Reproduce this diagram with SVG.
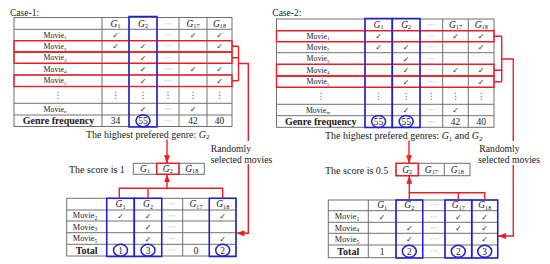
<svg xmlns="http://www.w3.org/2000/svg" width="550" height="264" viewBox="0 0 550 264" font-family="'Liberation Serif', 'DejaVu Serif', serif">
<defs>
<style>
.a,.m,.m2,.n,.b,.h{font-family:"Liberation Serif","DejaVu Serif",serif;fill:#1a1a1a}
.a{font-size:10px}
.m{font-size:7.8px;text-anchor:middle}
.m2{font-size:8.3px;text-anchor:middle}
.ck{font-family:"DejaVu Sans",sans-serif;font-size:8px;text-anchor:middle;fill:#1a1a1a}
.dt{font-family:"DejaVu Sans",sans-serif;font-size:7px;fill:#666;text-anchor:middle}
.n{font-size:9.5px;text-anchor:middle}
.b{font-weight:bold;font-size:10px;text-anchor:middle}
.h{font-style:italic;font-size:9.5px;text-anchor:middle}
.sb{font-style:normal;font-size:6.2px}
.grid{fill:none;stroke:#707070;stroke-width:1}
.red{fill:none;stroke:#ee1d24;stroke-width:1.4}
.blue{fill:none;stroke:#1f1fd6;stroke-width:1.5}
</style>
<marker id="ah" markerUnits="userSpaceOnUse" markerWidth="8" markerHeight="6" refX="8" refY="3" orient="auto">
<path d="M0,0 L8,3 L0,6 z" fill="#ee1d24"/>
</marker>
</defs>
<rect width="550" height="264" fill="#fff"/>

<g id="case1-table">
<text class="a" x="10" y="15.5" style="font-size:9.5px">Case-1:</text>
<rect class="grid" x="14" y="17.5" width="218" height="109"/>
<path class="grid" d="M14,29.3H232M14,40.7H232M14,52H232M14,63.3H232M14,75H232M14,86.5H232M14,103.3H232M14,115H232M102,17.5V126.5M129,17.5V126.5M157,17.5V126.5M179,17.5V126.5M207,17.5V126.5"/>
<text class="h" x="115.5" y="26.5">G<tspan class="sb" dy="1.5">1</tspan></text>
<text class="h" x="143" y="26.5">G<tspan class="sb" dy="1.5">2</tspan></text>
<text class="dt" x="168" y="25.5">⋯</text>
<text class="h" x="193" y="26.5">G<tspan class="sb" dy="1.5">17</tspan></text>
<text class="h" x="219.5" y="26.5">G<tspan class="sb" dy="1.5">18</tspan></text>
<text class="m" x="55" y="37.7">Movie<tspan font-size="5" dy="1.5">1</tspan></text>
<text class="ck" x="115.5" y="38">✓</text><text class="dt" x="168" y="37">⋯</text><text class="ck" x="193" y="38">✓</text><text class="ck" x="219.5" y="38">✓</text>
<text class="m" x="55" y="49">Movie<tspan font-size="5" dy="1.5">2</tspan></text>
<text class="ck" x="115.5" y="49.3">✓</text><text class="ck" x="143" y="49.3">✓</text><text class="dt" x="168" y="48.3">⋯</text><text class="ck" x="219.5" y="49.3">✓</text>
<text class="m" x="55" y="60.4">Movie<tspan font-size="5" dy="1.5">3</tspan></text>
<text class="ck" x="143" y="60.7">✓</text><text class="dt" x="168" y="59.7">⋯</text>
<text class="m" x="55" y="71.9">Movie<tspan font-size="5" dy="1.5">4</tspan></text>
<text class="ck" x="143" y="72.2">✓</text><text class="dt" x="168" y="71.2">⋯</text><text class="ck" x="193" y="72.2">✓</text><text class="ck" x="219.5" y="72.2">✓</text>
<text class="m" x="55" y="83.4">Movie<tspan font-size="5" dy="1.5">5</tspan></text>
<text class="ck" x="143" y="83.7">✓</text><text class="dt" x="168" y="82.7">⋯</text><text class="ck" x="219.5" y="83.7">✓</text>
<text class="dt" x="58" y="98" style="font-size:9px">⋮</text><text class="dt" x="115.5" y="98" style="font-size:9px">⋮</text><text class="dt" x="143" y="98" style="font-size:9px">⋮</text><text class="dt" x="168" y="98" style="font-size:9px">⋮</text><text class="dt" x="193" y="98" style="font-size:9px">⋮</text><text class="dt" x="219.5" y="98" style="font-size:9px">⋮</text>
<text class="m" x="55" y="111.9">Movie<tspan font-size="5" dy="1.5">n</tspan></text>
<text class="ck" x="143" y="112.2">✓</text><text class="dt" x="168" y="111.2">⋯</text><text class="ck" x="193" y="112.2">✓</text>
<text class="b" x="58.5" y="124">Genre frequency</text>
<text class="n" x="115.5" y="124">34</text><text class="n" x="143" y="124">55</text><text class="dt" x="168" y="122.8">⋯</text><text class="n" x="193" y="124">42</text><text class="n" x="219.5" y="124">40</text>
<rect class="red" x="14" y="40.7" width="218" height="11.3"/>
<rect class="red" x="14" y="52" width="218" height="11.3"/>
<rect class="red" x="14" y="75" width="218" height="11.5"/>
<rect class="blue" x="129" y="16.5" width="28" height="110.5"/>
<ellipse class="blue" cx="143" cy="120.7" rx="7" ry="6"/>
</g>

<g id="case2-table">
<text class="a" x="272.3" y="16" style="font-size:9.5px">Case-2:</text>
<rect class="grid" x="276.5" y="19" width="217.5" height="108.3"/>
<path class="grid" d="M276.5,30.7H494M276.5,41.7H494M276.5,52.7H494M276.5,64.3H494M276.5,76H494M276.5,87.3H494M276.5,104.3H494M276.5,115.7H494M365,19V127.3M392.3,19V127.3M420,19V127.3M442.7,19V127.3M468.3,19V127.3"/>
<text class="h" x="378.6" y="27.9">G<tspan class="sb" dy="1.5">1</tspan></text>
<text class="h" x="406.2" y="27.9">G<tspan class="sb" dy="1.5">2</tspan></text>
<text class="dt" x="431.3" y="26.9">⋯</text>
<text class="h" x="455.5" y="27.9">G<tspan class="sb" dy="1.5">17</tspan></text>
<text class="h" x="481.2" y="27.9">G<tspan class="sb" dy="1.5">18</tspan></text>
<text class="m" x="318" y="38.9">Movie<tspan font-size="5" dy="1.5">1</tspan></text>
<text class="ck" x="378.6" y="39.2">✓</text><text class="dt" x="431.3" y="38.2">⋯</text><text class="ck" x="455.5" y="39.2">✓</text><text class="ck" x="481.2" y="39.2">✓</text>
<text class="m" x="318" y="49.9">Movie<tspan font-size="5" dy="1.5">2</tspan></text>
<text class="ck" x="378.6" y="50.2">✓</text><text class="ck" x="406.2" y="50.2">✓</text><text class="dt" x="431.3" y="49.2">⋯</text><text class="ck" x="481.2" y="50.2">✓</text>
<text class="m" x="318" y="61.2">Movie<tspan font-size="5" dy="1.5">3</tspan></text>
<text class="ck" x="406.2" y="61.5">✓</text><text class="dt" x="431.3" y="60.5">⋯</text>
<text class="m" x="318" y="72.9">Movie<tspan font-size="5" dy="1.5">4</tspan></text>
<text class="ck" x="406.2" y="73.2">✓</text><text class="dt" x="431.3" y="72.2">⋯</text><text class="ck" x="455.5" y="73.2">✓</text><text class="ck" x="481.2" y="73.2">✓</text>
<text class="m" x="318" y="84.4">Movie<tspan font-size="5" dy="1.5">5</tspan></text>
<text class="ck" x="406.2" y="84.7">✓</text><text class="dt" x="431.3" y="83.7">⋯</text><text class="ck" x="481.2" y="84.7">✓</text>
<text class="dt" x="320.7" y="99" style="font-size:9px">⋮</text><text class="dt" x="378.6" y="99" style="font-size:9px">⋮</text><text class="dt" x="406.2" y="99" style="font-size:9px">⋮</text><text class="dt" x="431.3" y="99" style="font-size:9px">⋮</text><text class="dt" x="455.5" y="99" style="font-size:9px">⋮</text><text class="dt" x="481.2" y="99" style="font-size:9px">⋮</text>
<text class="m" x="318" y="112.7">Movie<tspan font-size="5" dy="1.5">m</tspan></text>
<text class="ck" x="406.2" y="113">✓</text><text class="dt" x="431.3" y="112">⋯</text><text class="ck" x="455.5" y="113">✓</text>
<text class="b" x="320.7" y="124.8">Genre frequency</text>
<text class="n" x="378.6" y="124.8">55</text><text class="n" x="406.2" y="124.8">55</text><text class="dt" x="431.3" y="123.6">⋯</text><text class="n" x="455.5" y="124.8">42</text><text class="n" x="481.2" y="124.8">40</text>
<rect class="red" x="276.5" y="30.7" width="217.5" height="11"/>
<rect class="red" x="276.5" y="64.3" width="217.5" height="11.7"/>
<rect class="red" x="276.5" y="76" width="217.5" height="11.3"/>
<rect class="blue" x="365" y="18.5" width="27.3" height="109"/>
<rect class="blue" x="392.3" y="18.5" width="27.7" height="109"/>
<ellipse class="blue" cx="378.6" cy="121.5" rx="7" ry="6"/>
<ellipse class="blue" cx="406.2" cy="121.5" rx="7" ry="6"/>
</g>

<g id="case1-labels">
<text class="a" x="86" y="137.5">The highest prefered genre: <tspan font-style="italic">G</tspan><tspan font-size="7" dy="1.8">2</tspan></text>
<text class="a" x="69" y="172.5">The score is 1</text>
<text class="a" x="210.7" y="151.5" style="font-size:9.7px">Randomly</text>
<text class="a" x="210.7" y="162.5" style="font-size:9.7px">selected movies</text>
</g>

<g id="case1-score">
<rect class="grid" x="133.3" y="163.3" width="71" height="11"/>
<path class="grid" d="M156.7,163.3V174.3M179,163.3V174.3"/>
<text class="h" x="145" y="171.8">G<tspan class="sb" dy="1.5">1</tspan></text>
<text class="h" x="167.8" y="171.8">G<tspan class="sb" dy="1.5">2</tspan></text>
<text class="h" x="191.7" y="171.8">G<tspan class="sb" dy="1.5">18</tspan></text>
<rect class="red" x="156.7" y="163.3" width="22.3" height="11"/>
</g>

<g id="case1-sample">
<rect class="grid" x="66.7" y="198.3" width="169.3" height="57.7"/>
<path class="grid" d="M66.7,210H236M66.7,221H236M66.7,232.7H236M66.7,244.3H236M106.7,198.3V256M134.3,198.3V256M161.7,198.3V256M182.7,198.3V256M209.3,198.3V256"/>
<text class="h" x="120.5" y="207.3">G<tspan class="sb" dy="1.5">1</tspan></text>
<text class="h" x="148" y="207.3">G<tspan class="sb" dy="1.5">2</tspan></text>
<text class="dt" x="172.2" y="206.3">⋯</text>
<text class="h" x="196" y="207.3">G<tspan class="sb" dy="1.5">17</tspan></text>
<text class="h" x="222.7" y="207.3">G<tspan class="sb" dy="1.5">18</tspan></text>
<text class="m2" x="85" y="218.4">Movie<tspan font-size="5.5" dy="1.5">2</tspan></text>
<text class="ck" x="120.5" y="218.5">✓</text><text class="ck" x="148" y="218.5">✓</text><text class="dt" x="172.2" y="217.5">⋯</text><text class="ck" x="222.7" y="218.5">✓</text>
<text class="m2" x="85" y="229.8">Movie<tspan font-size="5.5" dy="1.5">3</tspan></text>
<text class="ck" x="148" y="229.9">✓</text><text class="dt" x="172.2" y="228.9">⋯</text>
<text class="m2" x="85" y="241.4">Movie<tspan font-size="5.5" dy="1.5">5</tspan></text>
<text class="ck" x="148" y="241.5">✓</text><text class="dt" x="172.2" y="240.5">⋯</text><text class="ck" x="222.7" y="241.5">✓</text>
<text class="b" x="86.7" y="253.5">Total</text>
<text class="n" x="120.5" y="253.5">1</text><text class="n" x="148" y="253.5">3</text><text class="dt" x="172.2" y="252.3">⋯</text><text class="n" x="196" y="253.5">0</text><text class="n" x="222.7" y="253.5">2</text>
<rect class="blue" x="106.7" y="198.3" width="27.6" height="58.2"/>
<rect class="blue" x="134.3" y="198.3" width="27.4" height="58.2"/>
<rect class="blue" x="209.3" y="198.3" width="26.7" height="58.2"/>
<ellipse class="blue" cx="120.5" cy="250.2" rx="7" ry="6"/>
<ellipse class="blue" cx="148" cy="250.2" rx="7" ry="6"/>
<ellipse class="blue" cx="222.7" cy="250.2" rx="7" ry="6"/>
</g>

<g id="case2-labels">
<text class="a" x="325" y="139">The highest prefered genres: <tspan font-style="italic">G</tspan><tspan font-size="7" dy="1.8">1</tspan><tspan dy="-1.8"> and </tspan><tspan font-style="italic">G</tspan><tspan font-size="7" dy="1.8">2</tspan></text>
<text class="a" x="325" y="174">The score is 0.5</text>
<text class="a" x="479.3" y="151.5" style="font-size:9.7px">Randomly</text>
<text class="a" x="478.3" y="162.5" style="font-size:9.7px">selected movies</text>
</g>

<g id="case2-score">
<rect class="grid" x="396" y="163.3" width="74" height="12.4"/>
<path class="grid" d="M418.3,163.3V175.7M444.3,163.3V175.7"/>
<text class="h" x="407.2" y="172.5">G<tspan class="sb" dy="1.5">2</tspan></text>
<text class="h" x="431.3" y="172.5">G<tspan class="sb" dy="1.5">17</tspan></text>
<text class="h" x="457.2" y="172.5">G<tspan class="sb" dy="1.5">18</tspan></text>
<rect class="red" x="396" y="163.3" width="22.3" height="12.4"/>
</g>

<g id="case2-sample">
<rect class="grid" x="328.3" y="200" width="169.4" height="57.7"/>
<path class="grid" d="M328.3,210.7H497.7M328.3,222.3H497.7M328.3,233.3H497.7M328.3,245H497.7M368.3,200V257.7M396,200V257.7M422.7,200V257.7M445,200V257.7M471.7,200V257.7"/>
<text class="h" x="382.2" y="208.4">G<tspan class="sb" dy="1.5">1</tspan></text>
<text class="h" x="409.3" y="208.4">G<tspan class="sb" dy="1.5">2</tspan></text>
<text class="dt" x="433.8" y="207.4">⋯</text>
<text class="h" x="458.3" y="208.4">G<tspan class="sb" dy="1.5">17</tspan></text>
<text class="h" x="484.7" y="208.4">G<tspan class="sb" dy="1.5">18</tspan></text>
<text class="m2" x="347" y="219.4">Movie<tspan font-size="5.5" dy="1.5">1</tspan></text>
<text class="ck" x="382.2" y="219.5">✓</text><text class="dt" x="433.8" y="218.5">⋯</text><text class="ck" x="458.3" y="219.5">✓</text><text class="ck" x="484.7" y="219.5">✓</text>
<text class="m2" x="347" y="230.7">Movie<tspan font-size="5.5" dy="1.5">4</tspan></text>
<text class="ck" x="409.3" y="230.8">✓</text><text class="dt" x="433.8" y="229.8">⋯</text><text class="ck" x="458.3" y="230.8">✓</text><text class="ck" x="484.7" y="230.8">✓</text>
<text class="m2" x="347" y="242.1">Movie<tspan font-size="5.5" dy="1.5">5</tspan></text>
<text class="ck" x="409.3" y="242.2">✓</text><text class="dt" x="433.8" y="241.2">⋯</text><text class="ck" x="484.7" y="242.2">✓</text>
<text class="b" x="348.3" y="254.6">Total</text>
<text class="n" x="382.2" y="254.6">1</text><text class="n" x="409.3" y="254.6">2</text><text class="dt" x="433.8" y="253.4">⋯</text><text class="n" x="458.3" y="254.6">2</text><text class="n" x="484.7" y="254.6">3</text>
<rect class="blue" x="396" y="200" width="26.7" height="58"/>
<rect class="blue" x="445" y="200" width="26.7" height="58"/>
<rect class="blue" x="471.7" y="200" width="26" height="58"/>
<ellipse class="blue" cx="409.3" cy="251.3" rx="7" ry="6"/>
<ellipse class="blue" cx="458.3" cy="251.3" rx="7" ry="6"/>
<ellipse class="blue" cx="484.7" cy="251.3" rx="7" ry="6"/>
</g>

<g id="connectors">
<path class="red" d="M232,46.3H238.5M232,57.7H238.5M232,80.7H238.5M238.5,46.3V80.7M238.5,63.5H248.3V141"/>
<path class="red" d="M248.3,164V233.3H236.5" marker-end="url(#ah)"/>
<path class="red" d="M167,139.5V163.3" marker-end="url(#ah)"/>
<path class="red" d="M167,188.3V174.3" marker-end="url(#ah)"/>
<path class="red" d="M119.3,198.3V188.3H222.7V198.3M148,188.3V198.3"/>
<path class="red" d="M494,36.2H501.7M494,70.2H501.7M494,81.7H501.7M501.7,36.2V81.7M501.7,59H513.3V141"/>
<path class="red" d="M513.3,165V236H498" marker-end="url(#ah)"/>
<path class="red" d="M409,140.5V163.3" marker-end="url(#ah)"/>
<path class="red" d="M409.3,192.7V175.7" marker-end="url(#ah)"/>
<path class="red" d="M409.3,200V192.7H484.7V200M458.3,192.7V200"/>
</g>
</svg>
